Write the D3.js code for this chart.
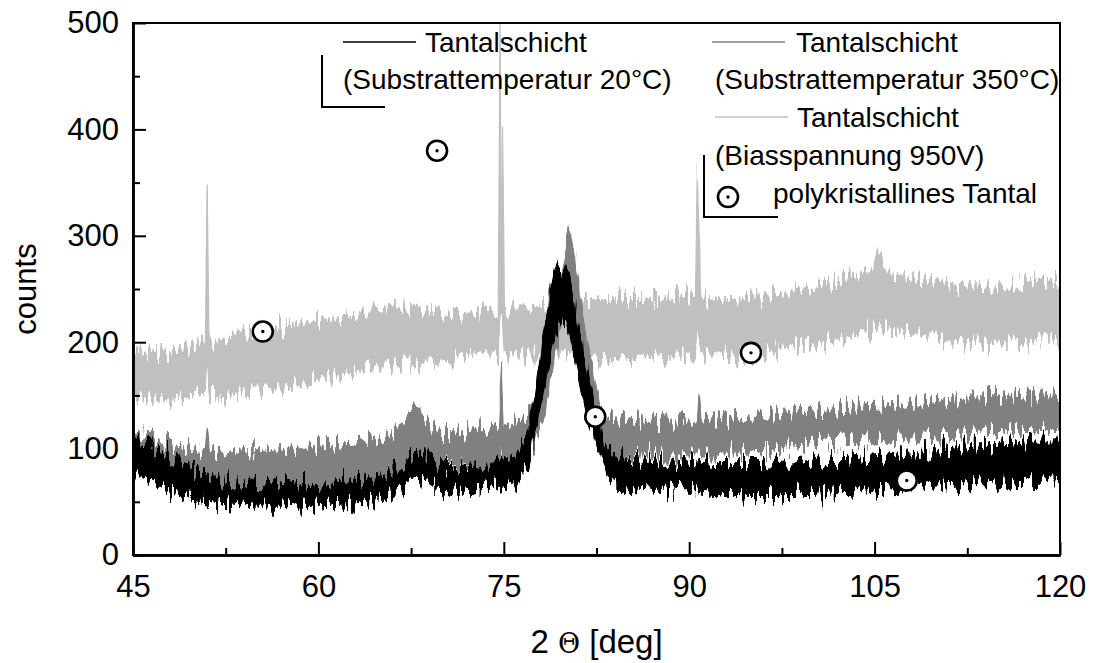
<!DOCTYPE html>
<html>
<head>
<meta charset="utf-8">
<script src="https://cdn.jsdelivr.net/npm/d3@7"></script>
<style>
  body { margin: 0; background: #fff; }
  text { font-family: "Liberation Sans", Arial, sans-serif; fill: #000; }
</style>
</head>
<body>
<div id="chart"></div>
<script>
// ---- data (noise band: upper / lower edge, counts) ----
var lightX = [45,46,47,48,49,50,50.85,51,51.15,52,53,54,55,56,57,58,59,60,61,62,63,64,65,66,67,68,69,70,71,72,73,74,74.55,74.7,74.8,74.9,75.05,76,77,78,79,80,81,82,83,84,85,86,87,88,89,90,90.5,90.65,90.8,90.95,92,93,94,95,96,97,98,99,100,101,102,103,104,105,105.4,106,107,108,109,110,111,112,113,114,115,116,117,118,119,120];
var lightHi = [192,190,192,190,194,198,198,345,200,200,204,208,210,212,214,217,219,221,222,224,226,228,229,231,233,234,230,227,226,228,228,229,230,510,232,400,230,231,232,234,237,240,240,240,240,240,240,240,240,240,242,244,244,360,302,242,240,240,240,241,243,246,249,251,253,256,259,262,265,268,288,266,262,259,257,255,253,252,252,252,253,255,256,258,258,258];
var lightLo = [150,148,146,145,148,150,152,180,150,146,150,152,154,156,157,160,163,166,167,169,172,174,176,178,179,180,182,184,186,188,189,190,190,218,218,218,190,190,190,190,190,190,188,185,183,183,184,184,185,186,188,190,190,210,210,190,190,188,186,188,190,193,196,196,197,199,202,205,208,212,214,214,211,208,206,205,203,202,200,199,199,199,200,202,202,202];

var grayX = [45,46,47,48,49,50,50.85,51,51.15,52,53,54,55,56,57,58,59,60,61,62,63,64,65,66,67,67.7,68.5,69,70,71,72,73,74,74.65,74.8,74.95,76,76.5,77,77.5,78,78.5,79,79.5,80,80.3,80.6,81,81.5,82,82.5,83,83.5,84,85,86,87,88,89,90,90.65,90.8,90.95,92,93,94,95,96,97,98,99,100,101,102,103,104,105,106,107,108,109,110,111,112,113,114,115,116,117,118,119,120];
var grayHi = [116,112,108,104,100,98,97,116,97,97,97,98,98,98,99,100,101,102,103,104,106,108,111,116,128,138,134,122,115,115,117,118,120,121,175,122,124,128,134,145,170,200,232,260,290,306,292,262,218,182,152,134,128,127,126,126,125,124,124,125,125,155,125,126,127,128,129,130,131,133,134,136,137,138,139,139,140,140,141,142,144,145,145,146,147,148,148,149,149,149,149,149];
var grayLo = [74,72,70,67,65,63,63,70,63,62,62,63,63,63,63,64,65,67,68,70,71,73,75,79,86,92,92,87,84,83,84,85,86,87,100,88,89,92,96,105,122,148,178,208,230,236,226,202,168,138,112,100,95,92,93,95,95,95,95,95,95,105,95,95,96,96,97,98,99,101,103,105,105,106,107,108,108,109,110,111,111,112,113,114,115,117,117,117,117,117,117,117];

var blackX = [45,46,47,48,49,50,51,52,53,54,55,56,57,58,59,60,61,62,63,64,65,66,67,67.7,68.5,69,69.5,70.5,71,72,73,74,75,76,76.5,77,77.5,78,78.5,79,79.3,79.7,80,80.3,80.6,81,81.5,82,82.5,83,83.5,84,85,86,87,88,89,90,91,92,93,94,95,96,97,98,99,100,101,102,103,104,105,106,107,108,109,110,111,112,113,114,115,116,117,118,119,120];
var blackHi = [112,104,98,92,86,80,76,72,70,69,68,68,68,68,68,68,69,70,71,73,75,78,86,96,98,94,88,80,81,82,84,86,92,96,102,115,148,188,228,262,276,266,278,268,245,215,186,160,134,112,98,94,91,89,89,89,89,88,87,86,86,86,86,86,87,87,88,89,89,90,91,92,92,93,94,95,97,98,100,101,102,103,104,105,106,107,107,107];
var blackLo = [76,72,66,60,56,52,50,48,47,46,45,45,45,46,46,46,47,48,49,50,52,54,60,70,72,68,64,60,60,60,62,64,68,70,76,86,112,140,172,202,214,218,222,212,195,170,146,124,104,86,72,66,63,62,61,61,61,60,59,58,57,57,56,56,56,56,56,56,57,58,58,59,60,61,62,63,64,65,66,67,67,68,69,70,70,71,72,73];

// "polykristallines Tantal" reference positions
var markerX = [55.5, 69.6, 82.4, 95.0, 107.6];
var markerY = [210, 380, 130, 190, 70];

var xTicks = [45, 60, 75, 90, 105, 120];
var xMinor = [52.5, 67.5, 82.5, 97.5, 112.5];
var yTicks = [0, 100, 200, 300, 400, 500];
var yMinor = [50, 150, 250, 350, 450];

var legendLabels = [
  ["Tantalschicht", "(Substrattemperatur 20°C)"],
  ["Tantalschicht", "(Substrattemperatur 350°C)"],
  ["Tantalschicht", "(Biasspannung 950V)"]
];
var markerLabel = "polykristallines Tantal";

// ---- layout ----
var width = 1095, height = 663;
var margin = {top: 23, right: 35, bottom: 108, left: 133};
var plotW = width - margin.left - margin.right;   // 927
var plotH = height - margin.top - margin.bottom;  // 532

var x = d3.scaleLinear().domain([45, 120]).range([margin.left, margin.left + plotW]);
var y = d3.scaleLinear().domain([0, 500]).range([margin.top + plotH, margin.top]);

var svg = d3.select("#chart").append("svg")
  .attr("width", width)
  .attr("height", height);

var defs = svg.append("defs");
defs.append("clipPath").attr("id", "plotclip")
  .append("rect")
    .attr("x", margin.left).attr("y", margin.top)
    .attr("width", plotW).attr("height", plotH);

// jagged edge look of the raw detector trace (vertical-only displacement)
var rough = defs.append("filter").attr("id", "rough")
  .attr("x", "-2%").attr("y", "-40%").attr("width", "104%").attr("height", "180%")
  .attr("color-interpolation-filters", "sRGB");
rough.append("feTurbulence")
  .attr("type", "fractalNoise").attr("baseFrequency", "0.33 0.04")
  .attr("numOctaves", 1).attr("seed", 7).attr("result", "t");
rough.append("feColorMatrix").attr("in", "t").attr("type", "matrix")
  .attr("values", "0 0 0 0 0.5  0 1 0 0 0  0 0 0 0 0  0 0 0 0 1").attr("result", "m");
rough.append("feDisplacementMap").attr("in", "SourceGraphic").attr("in2", "m")
  .attr("scale", 48).attr("xChannelSelector", "R").attr("yChannelSelector", "G");

function band(xs, hi, lo) {
  return xs.map(function(d, i) { return {x: d, hi: hi[i], lo: lo[i]}; });
}
var area = d3.area()
  .x(function(d) { return x(d.x); })
  .y0(function(d) { return y(d.lo); })
  .y1(function(d) { return y(d.hi); });

var series = [
  {data: band(lightX, lightHi, lightLo), color: "#c0c0c0"},
  {data: band(grayX, grayHi, grayLo), color: "#808080"},
  {data: band(blackX, blackHi, blackLo), color: "#000000"}
];

var plot = svg.append("g").attr("clip-path", "url(#plotclip)");
plot.selectAll("path.series")
  .data(series)
  .enter()
  .append("path")
    .attr("class", "series")
    .attr("d", function(d) { return area(d.data); })
    .attr("fill", function(d) { return d.color; })
    .attr("stroke", function(d) { return d.color; })
    .attr("stroke-width", 1.2)
    .attr("stroke-linejoin", "round")
    .attr("filter", "url(#rough)");

// frame (top + right)
svg.append("rect")
  .attr("x", margin.left).attr("y", margin.top)
  .attr("width", plotW).attr("height", plotH)
  .attr("fill", "none").attr("stroke", "#000").attr("stroke-width", 2);

// axes
svg.append("g")
  .attr("transform", "translate(0," + (margin.top + plotH) + ")")
  .call(d3.axisBottom(x).tickValues(xTicks).tickSize(-13).tickSizeOuter(0).tickPadding(20));
svg.append("g")
  .attr("transform", "translate(0," + (margin.top + plotH) + ")")
  .call(d3.axisBottom(x).tickValues(xMinor).tickSize(-7).tickSizeOuter(0).tickFormat(""));
svg.append("g")
  .attr("transform", "translate(" + margin.left + ",0)")
  .call(d3.axisLeft(y).tickValues(yTicks).tickSize(-13).tickSizeOuter(0).tickPadding(14));
svg.append("g")
  .attr("transform", "translate(" + margin.left + ",0)")
  .call(d3.axisLeft(y).tickValues(yMinor).tickSize(-7).tickSizeOuter(0).tickFormat(""));

svg.selectAll(".domain").attr("stroke", "#000").attr("stroke-width", 2.5);
svg.selectAll(".tick line").attr("stroke", "#000").attr("stroke-width", 2);
svg.selectAll(".tick text")
  .style("font-family", "'Liberation Sans', Arial, sans-serif")
  .style("font-size", "31px")
  .attr("fill", "#000");

// axis titles
var xt = svg.append("text")
  .attr("x", margin.left + plotW / 2)
  .attr("y", 653)
  .attr("text-anchor", "middle")
  .style("font-size", "33px");
xt.append("tspan").text("2 ");
xt.append("tspan").text("Θ").style("font-family", "'DejaVu Serif', 'Liberation Serif', serif").style("font-size", "27px");
xt.append("tspan").text(" [deg]");

svg.append("text")
  .attr("transform", "translate(36," + (margin.top + plotH / 2) + ") rotate(-90)")
  .attr("text-anchor", "middle")
  .style("font-size", "31px")
  .text("counts");

// markers
var mk = plot.selectAll("g.marker")
  .data(markerX.map(function(d, i) { return [d, markerY[i]]; }))
  .enter()
  .append("g")
    .attr("class", "marker")
    .attr("transform", function(d) { return "translate(" + x(d[0]) + "," + y(d[1]) + ")"; });
mk.append("circle").attr("r", 10).attr("fill", "#fff").attr("stroke", "#000").attr("stroke-width", 2.6);
mk.append("circle").attr("r", 1.7).attr("fill", "#000");

// legend
var lg = svg.append("g").style("font-size", "28px");
var legendColors = ["#000000", "#808080", "#c0c0c0"];
var legendPos = [
  {lx: 343, ly: 42, tx: 425, ty: 52, sx: 343, sy: 89},
  {lx: 712, ly: 42, tx: 796, ty: 52, sx: 715, sy: 89},
  {lx: 715, ly: 117, tx: 797, ty: 127, sx: 715, sy: 165}
];
legendPos.forEach(function(p, i) {
  lg.append("line")
    .attr("x1", p.lx).attr("x2", p.lx + 73)
    .attr("y1", p.ly).attr("y2", p.ly)
    .attr("stroke", legendColors[i]).attr("stroke-width", 1.5);
  lg.append("text").attr("x", p.tx).attr("y", p.ty).text(legendLabels[i][0]);
  lg.append("text").attr("x", p.sx).attr("y", p.sy).text(legendLabels[i][1]);
});
var lm = lg.append("g").attr("transform", "translate(728,197)");
lm.append("circle").attr("r", 10).attr("fill", "#fff").attr("stroke", "#000").attr("stroke-width", 2.6);
lm.append("circle").attr("r", 1.7).attr("fill", "#000");
lg.append("text").attr("x", 773).attr("y", 203).text(markerLabel);

// corner marks of the legend frames
lg.append("path").attr("d", "M322,55V107H385").attr("fill", "none").attr("stroke", "#000").attr("stroke-width", 2);
lg.append("path").attr("d", "M704,155V217H778").attr("fill", "none").attr("stroke", "#000").attr("stroke-width", 2);
</script>
</body>
</html>
